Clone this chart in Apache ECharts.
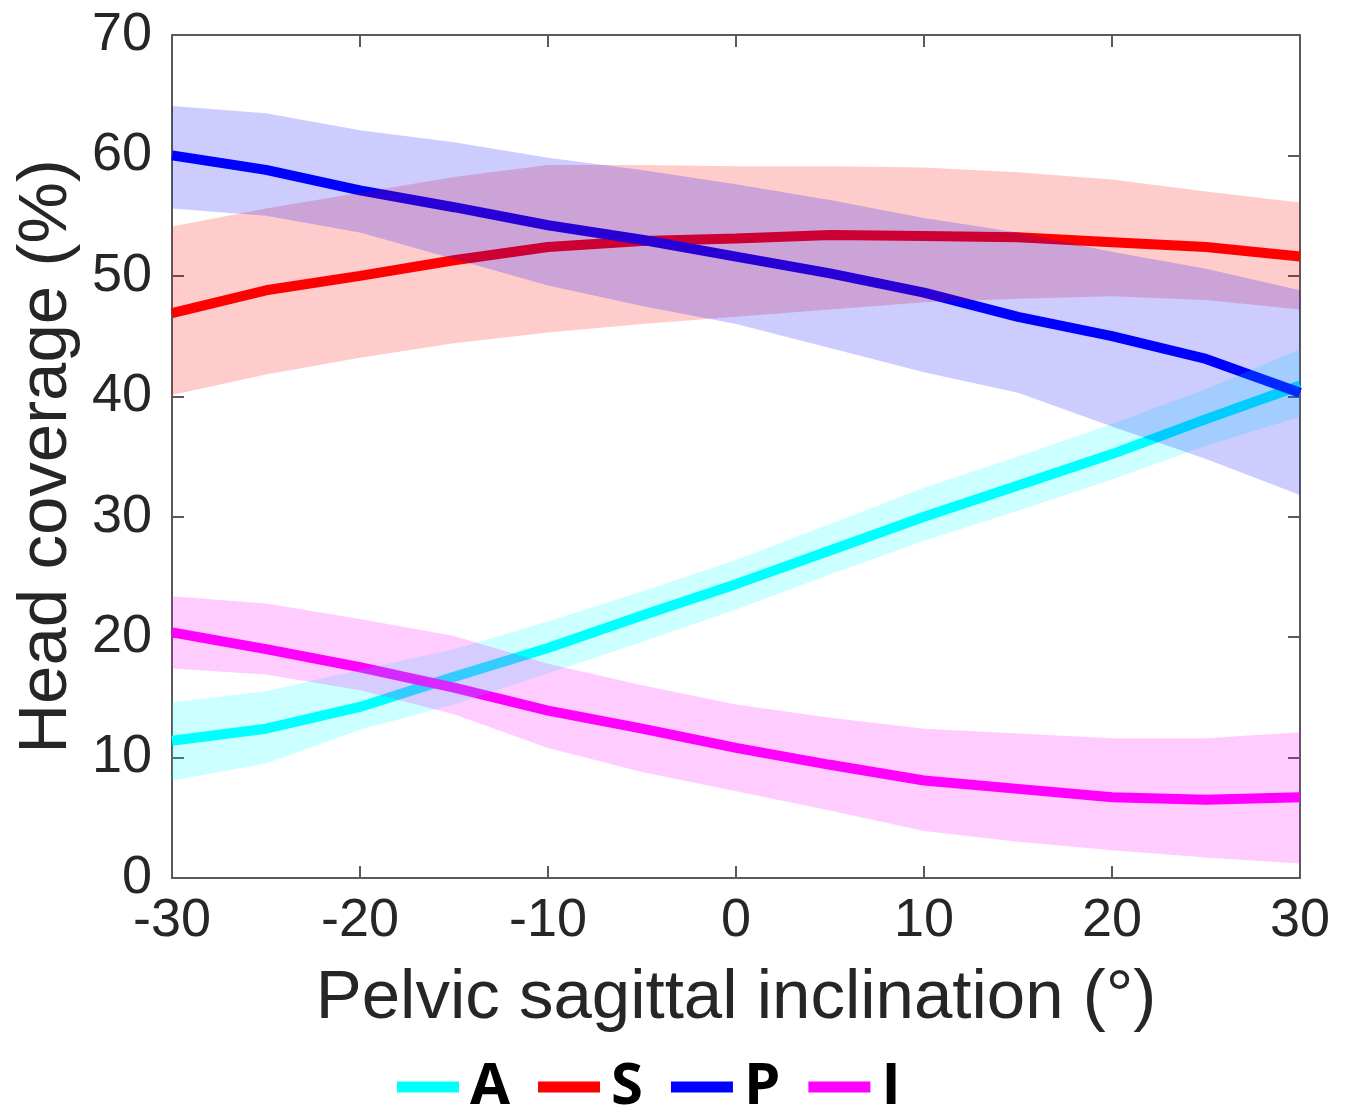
<!DOCTYPE html>
<html>
<head>
<meta charset="utf-8">
<script src="https://cdn.jsdelivr.net/npm/echarts@6/dist/echarts.min.js"></script>
<style>
html,body{margin:0;padding:0;background:#fff;}
#chart{width:1348px;height:1119px;}
</style>
</head>
<body>
<div id="chart"></div>
<script>
// Pelvic sagittal inclination (degrees)
const inclination = [-30, -25, -20, -15, -10, -5, 0, 5, 10, 15, 20, 25, 30];

// A (anterior)
const A_mean  = [11.4, 12.4, 14.2, 16.7, 19.1, 21.8, 24.4, 27.2, 30.0, 32.6, 35.2, 38.1, 40.9];
const A_upper = [14.6, 15.5, 17.3, 19.0, 21.3, 23.8, 26.4, 29.4, 32.4, 35.0, 37.7, 40.6, 43.9];
const A_lower = [8.1, 9.5, 12.3, 14.4, 17.0, 19.6, 22.3, 25.2, 28.0, 30.5, 33.1, 35.9, 38.3];

// S (superior)
const S_mean  = [46.9, 48.8, 50.0, 51.3, 52.4, 52.9, 53.1, 53.4, 53.3, 53.2, 52.8, 52.4, 51.6];
const S_upper = [54.1, 55.6, 56.9, 58.2, 59.2, 59.2, 59.1, 59.1, 59.0, 58.6, 58.0, 57.0, 56.1];
const S_lower = [40.1, 41.8, 43.2, 44.4, 45.3, 46.0, 46.6, 47.2, 47.8, 48.1, 48.3, 48.0, 47.2];

// P (posterior)
const P_mean  = [60.0, 58.8, 57.1, 55.7, 54.2, 53.0, 51.6, 50.2, 48.6, 46.6, 45.0, 43.1, 40.3];
const P_upper = [64.1, 63.5, 62.1, 61.1, 59.8, 58.8, 57.6, 56.3, 54.8, 53.6, 52.0, 50.6, 48.8];
const P_lower = [55.6, 55.0, 53.6, 51.4, 49.2, 47.5, 46.0, 44.0, 42.0, 40.3, 37.5, 34.8, 31.8];

// I (inferior)
const I_mean  = [20.4, 19.0, 17.5, 15.8, 13.9, 12.4, 10.8, 9.4, 8.1, 7.4, 6.7, 6.5, 6.7];
const I_upper = [23.4, 22.8, 21.5, 20.1, 17.8, 16.0, 14.4, 13.3, 12.4, 12.0, 11.6, 11.6, 12.1];
const I_lower = [17.4, 16.9, 15.6, 13.6, 10.8, 8.8, 7.2, 5.6, 3.9, 3.0, 2.3, 1.7, 1.2];

const xTicks = [-30, -20, -10, 0, 10, 20, 30];
const yTicks = [0, 10, 20, 30, 40, 50, 60, 70];

const groups = [
  {name: 'A', color: '#00FFFF', band: 'rgba(0,255,255,0.2)', mean: A_mean, upper: A_upper, lower: A_lower},
  {name: 'S', color: '#FF0000', band: 'rgba(255,0,0,0.2)', mean: S_mean, upper: S_upper, lower: S_lower},
  {name: 'P', color: '#0000FF', band: 'rgba(0,0,255,0.2)', mean: P_mean, upper: P_upper, lower: P_lower},
  {name: 'I', color: '#FF00FF', band: 'rgba(255,0,255,0.2)', mean: I_mean, upper: I_upper, lower: I_lower}
];

const pair = arr => inclination.map((x, i) => [x, arr[i]]);

const series = [];
groups.forEach(g => {
  series.push({
    name: g.name, type: 'line', data: pair(g.mean), z: 2,
    showSymbol: false, symbol: 'none', color: g.color,
    lineStyle: {color: g.color, width: 10}, silent: true
  });
});
groups.forEach(g => {
  const bandData = inclination.map((x, i) => [x, g.lower[i], g.upper[i]]);
  series.push({
    name: g.name + ' band', type: 'custom', z: 3, silent: true,
    data: bandData,
    encode: {x: 0, y: [1, 2]},
    renderItem: function (params, api) {
      if (params.dataIndex !== 0) return null;
      const top = bandData.map(d => api.coord([d[0], d[2]]));
      const bot = bandData.slice().reverse().map(d => api.coord([d[0], d[1]]));
      return {
        type: 'polygon',
        shape: {points: top.concat(bot)},
        style: {fill: g.band, stroke: null}
      };
    }
  });
});

const axisCol = '#5a5a5a';
const labelStyle = {fontFamily: 'Liberation Sans', fontSize: 54, color: '#262626'};

const chart = echarts.init(document.getElementById('chart'), null, {renderer: 'canvas'});
chart.setOption({
  animation: false,
  backgroundColor: '#fff',
  grid: {left: 172, right: 48, top: 35, bottom: 241, containLabel: false},
  legend: {
    data: groups.map(g => g.name),
    left: 397, top: 1058, padding: 0,
    icon: 'rect', itemWidth: 62, itemHeight: 11, itemGap: 28,
    textStyle: {fontFamily: 'Open Sans', fontWeight: 'bold', fontSize: 58, lineHeight: 54, color: '#000', padding: [0, 0, 0, 6]},
    selectedMode: false
  },
  xAxis: [{
    type: 'value', min: -30, max: 30, interval: 10,
    name: 'Pelvic sagittal inclination (°)', nameLocation: 'middle', nameGap: 86,
    nameTextStyle: {fontFamily: 'Liberation Sans', fontSize: 69, color: '#262626'},
    axisLine: {show: true, onZero: false, lineStyle: {color: axisCol, width: 2}},
    axisTick: {show: true, inside: true, length: 12, lineStyle: {color: axisCol, width: 2}},
    axisLabel: Object.assign({margin: 16, formatter: v => xTicks.includes(v) ? String(v) : ''}, labelStyle),
    splitLine: {show: false}
  }, {
    type: 'value', min: -30, max: 30, interval: 10, position: 'top',
    axisLine: {show: true, onZero: false, lineStyle: {color: axisCol, width: 2}},
    axisTick: {show: true, inside: true, length: 12, lineStyle: {color: axisCol, width: 2}},
    axisLabel: {show: false}, splitLine: {show: false}
  }],
  yAxis: [{
    type: 'value', min: 0, max: 70, interval: 10,
    name: 'Head coverage (%)', nameLocation: 'middle', nameGap: 86, nameRotate: 90,
    nameTextStyle: {fontFamily: 'Liberation Sans', fontSize: 69, color: '#262626'},
    axisLine: {show: true, onZero: false, lineStyle: {color: axisCol, width: 2}},
    axisTick: {show: true, inside: true, length: 12, lineStyle: {color: axisCol, width: 2}},
    axisLabel: Object.assign({margin: 20, formatter: v => yTicks.includes(v) ? String(v) : ''}, labelStyle),
    splitLine: {show: false}
  }, {
    type: 'value', min: 0, max: 70, interval: 10, position: 'right',
    axisLine: {show: true, onZero: false, lineStyle: {color: axisCol, width: 2}},
    axisTick: {show: true, inside: true, length: 12, lineStyle: {color: axisCol, width: 2}},
    axisLabel: {show: false}, splitLine: {show: false}
  }],
  series: series
});
</script>
</body>
</html>
